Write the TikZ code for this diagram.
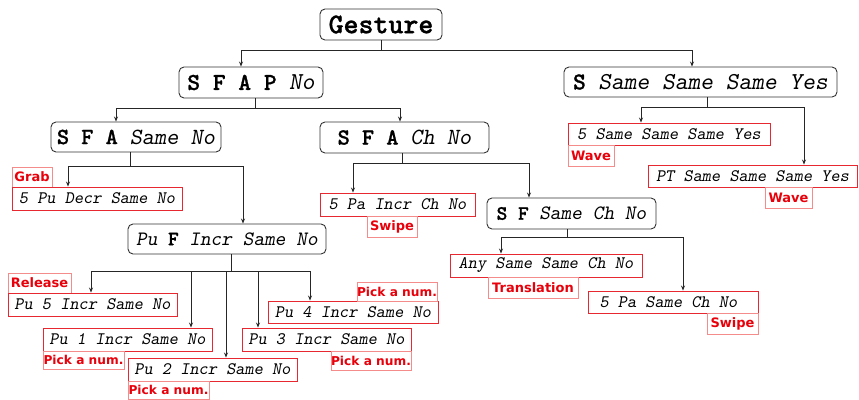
\documentclass[tikz,border=0pt]{standalone}
\usepackage{fontspec}
\newfontfamily\labfamily{DejaVu Sans}
\newfontfamily\ttbold{lmmonolt10-bold.otf}[FakeBold=1]
\newfontfamily\ttsl{lmmonoslant10-regular.otf}
\usetikzlibrary{arrows.meta}
\definecolor{leafred}{RGB}{232,40,48}
\definecolor{labpink}{RGB}{244,140,140}
\definecolor{labred}{RGB}{232,0,10}
\newcommand{\B}[1]{{\ttbold #1}}
\newcommand{\I}[1]{{\ttsl #1}}
\begin{document}
\begin{tikzpicture}[x=1pt,y=-1pt,
  sz/.style 2 args={minimum width=#1pt, minimum height=#2pt},
  box/.style={draw=black!80, rounded corners=5pt, line width=0.9pt, inner sep=0pt, fill=white},
  leaf/.style={draw=leafred, line width=0.9pt, inner sep=0pt, font=\ttsl\fontsize{17.5}{20}\selectfont},
  lab/.style={draw=labpink, line width=0.8pt, inner sep=0pt, text=labred, font=\labfamily\bfseries\fontsize{13}{15}\selectfont},
  pick/.style={lab, font=\labfamily\bfseries\fontsize{12.2}{14}\selectfont},
  arr/.style={draw=black!85, line width=0.8pt, -{Stealth[length=5pt,width=4pt]}},
  f25/.style={font=\ttbold\fontsize{28.5}{30}\selectfont},
  f21/.style={font=\ttfamily\fontsize{24.3}{26}\selectfont},
  f20/.style={font=\ttfamily\fontsize{23.2}{25}\selectfont},
  f18/.style={font=\ttfamily\fontsize{20.4}{23}\selectfont}]
\useasboundingbox (0,0) rectangle (859,399);
% main boxes
\node[box,f25,sz={122}{31}] (g) at (381,24.5) {Gesture};
\node[box,f21,sz={144}{31}] (sfap) at (251,82.5) {\B{S F A P} \I{No}};
\node[box,f21,sz={273}{30}] (sssy) at (700.5,82) {\B{S} \I{Same Same Same Yes}};
\node[box,f20,sz={170}{30}] (sfas) at (136,137) {\B{S F A} \I{Same No}};
\node[box,f20,sz={169}{31}] (sfac) at (404.5,137.5) {\B{S F A} \I{Ch No}};
\node[box,f18,sz={198}{30}] (puf) at (227,239) {\I{Pu} \B{F} \I{Incr Same No}};
\node[box,f18,sz={169}{31}] (sfsc) at (571.5,213.5) {\B{S F} \I{Same Ch No}};
% leaves
\node[leaf,sz={202}{22}] (l5sssy) at (669,134) {5 Same Same Same Yes};
\node[lab,sz={46}{21}] (wave1) at (591,155.5) {Wave};
\node[leaf,sz={209}{22}] (lpt) at (752.5,176) {PT Same Same Same Yes};
\node[lab,sz={47}{21}] (wave2) at (788.5,197.5) {Wave};
\node[lab,sz={40}{20}] (grab) at (32,177) {Grab};
\node[leaf,sz={170}{23}] (l5pu) at (97,198.5) {5 Pu Decr Same No};
\node[leaf,sz={155}{23}] (l5pa) at (397.5,204.5) {5 Pa Incr Ch No};
\node[lab,sz={50}{21}] (swipe1) at (392,226.5) {Swipe};
\node[leaf,sz={192}{23}] (any) at (546,265.5) {Any Same Same Ch No};
\node[lab,sz={90}{21}] (trans) at (533,287.5) {Translation};
\node[leaf,sz={170}{22}] (l5pas) at (673,302) {5 Pa Same Ch No\phantom{x}};
\node[lab,sz={51}{21}] (swipe2) at (732.5,323.5) {Swipe};
\node[lab,sz={63}{20}] (release) at (39.5,283) {Release};
\node[leaf,sz={169}{23}] (pu5) at (92.5,304.5) {Pu 5 Incr Same No};
\node[leaf,sz={169}{23}] (pu1) at (127.5,339.5) {Pu 1 Incr Same No};
\node[pick,sz={81}{18}] (pick1) at (83.5,360) {Pick a num.};
\node[leaf,sz={169}{23}] (pu2) at (212.5,369.5) {Pu 2 Incr Same No};
\node[pick,sz={81}{18}] (pick2) at (168.5,390) {Pick a num.};
\node[leaf,sz={169}{23}] (pu3) at (326.5,339.5) {Pu 3 Incr Same No};
\node[pick,sz={80}{19}] (pick3) at (371,360.5) {Pick a num.};
\node[leaf,sz={170}{22}] (pu4) at (353,312) {Pu 4 Incr Same No};
\node[pick,sz={80}{19}] (pick4) at (397,291.5) {Pick a num.};
% connectors
\draw[arr] (g.south) -- ++(0,10) -| ([xshift=-10pt]sfap.north);
\draw[arr] (g.south) -- ++(0,10) -| ([xshift=-8.5pt]sssy.north);
\draw[arr] ([xshift=4pt]sfap.south) -- ++(0,10) -| ([xshift=-20pt]sfas.north);
\draw[arr] ([xshift=4pt]sfap.south) -- ++(0,10) -| ([xshift=-4.5pt]sfac.north);
\draw[arr] ([xshift=6.5pt]sssy.south) -- ++(0,10) -| ([xshift=-28pt]l5sssy.north);
\draw[arr] ([xshift=6.5pt]sssy.south) -- ++(0,10) -| ([xshift=51.5pt]lpt.north);
\draw[arr] ([xshift=-6pt]sfas.south) -- ++(0,14) -| ([xshift=-29pt]l5pu.north);
\draw[arr] ([xshift=-6pt]sfas.south) -- ++(0,14) -| ([xshift=16pt]puf.north);
\draw[arr] ([xshift=-2.5pt]sfac.south) -- ++(0,10) -| ([xshift=-44.5pt]l5pa.north);
\draw[arr] ([xshift=-2.5pt]sfac.south) -- ++(0,10) -| ([xshift=-42.5pt]sfsc.north);
\draw[arr] ([xshift=-4.5pt]sfsc.south) -- ++(0,8) -| ([xshift=-45pt]any.north);
\draw[arr] ([xshift=-4.5pt]sfsc.south) -- ++(0,8) -| ([xshift=10pt]l5pas.north);
\draw[arr] ([xshift=4pt]puf.south) -- ++(0,17) -| ([xshift=-1.5pt]pu5.north);
\draw[arr] ([xshift=4pt]puf.south) -- ++(0,17) -| ([xshift=63.5pt]pu1.north);
\draw[arr] ([xshift=4pt]puf.south) -- ++(0,17) -| ([xshift=13.5pt]pu2.north);
\draw[arr] ([xshift=4pt]puf.south) -- ++(0,17) -| ([xshift=-68.5pt]pu3.north);
\draw[arr] ([xshift=4pt]puf.south) -- ++(0,17) -| ([xshift=-43pt]pu4.north);
\end{tikzpicture}
\end{document}
